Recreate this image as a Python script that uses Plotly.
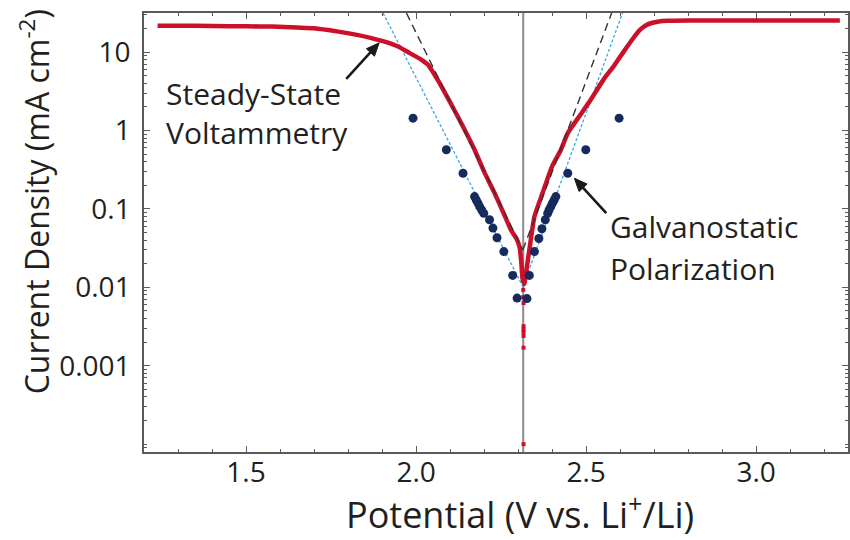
import math
import plotly.graph_objects as go

# ---------------- data ----------------
# Steady-state voltammetry (red curve)
ssv_potential = [1.24, 1.30, 1.40, 1.50, 1.575, 1.65, 1.70, 1.771, 1.83, 1.869, 1.91, 1.947,
                 1.98, 2.016, 2.035, 2.064, 2.10, 2.133, 2.172, 2.20, 2.231, 2.26, 2.279,
                 2.295, 2.304, 2.309, 2.313, 2.318, 2.323, 2.333, 2.348, 2.372, 2.40, 2.426,
                 2.446, 2.48, 2.514, 2.553, 2.582, 2.612, 2.64, 2.655, 2.671, 2.69, 2.71,
                 2.74, 2.80, 2.90, 3.00, 3.10, 3.20, 3.246]
ssv_current = [21.8, 21.8, 21.6, 21.4, 21.2, 20.6, 20.2, 18.3, 16.5, 15.1, 13.5, 11.8,
               9.8, 8.0, 6.9, 4.4, 2.3, 1.24, 0.57, 0.30, 0.159, 0.083, 0.054,
               0.042, 0.033, 0.022, 0.013, 0.011, 0.015, 0.030, 0.080, 0.16, 0.35, 0.57,
               0.93, 1.52, 2.49, 4.6, 6.7, 10.4, 15.4, 18.6, 21.4, 23.4, 24.5,
               25.1, 25.3, 25.3, 25.3, 25.3, 25.3, 25.3]
# scattered low-current voltammetry points near equilibrium
ssv_tail_potential = [2.315, 2.315, 2.316, 2.316, 2.316, 2.316, 2.316, 2.316, 2.316]
ssv_tail_current = [0.0093, 0.0075, 0.0063, 0.0032, 0.0029, 0.0027, 0.0024, 0.0017, 0.0001]

# Galvanostatic polarization (navy dots)
gp_potential = [1.991, 2.089, 2.138, 2.172, 2.177, 2.182, 2.187, 2.193, 2.199, 2.216, 2.226,
                2.238, 2.258, 2.284, 2.297, 2.326, 2.333, 2.348, 2.361, 2.370, 2.380,
                2.387, 2.391, 2.396, 2.401, 2.406, 2.411, 2.446, 2.499, 2.597]
gp_current = [1.44, 0.57, 0.286, 0.144, 0.13, 0.119, 0.107, 0.097, 0.088, 0.073, 0.057,
              0.043, 0.0286, 0.0142, 0.0073, 0.0072, 0.0142, 0.0286, 0.042, 0.056, 0.073,
              0.088, 0.097, 0.107, 0.119, 0.13, 0.144, 0.286, 0.57, 1.44]

# Tafel fits
gp_fit_left_potential = [1.903, 2.314]
gp_fit_left_current = [31.6, 0.0102]
gp_fit_right_potential = [2.314, 2.607]
gp_fit_right_current = [0.0102, 31.6]
ssv_fit_left_potential = [1.9716, 2.314]
ssv_fit_left_current = [31.6, 0.030]
ssv_fit_right_potential = [2.314, 2.575]
ssv_fit_right_current = [0.030, 31.6]

equilibrium_potential = 2.315

# arrow targets (data coordinates) for the two labels
ssv_arrow_target = (1.8915, 13.15)
gp_arrow_target = (2.4654, 0.247)

x_tickvals = [1.5, 2.0, 2.5, 3.0]
y_tickvals = [1e-3, 1e-2, 1e-1, 1, 10]
y_ticktext = ["0.001", "0.01", "0.1", "1", "10"]

# ---------------- layout constants ----------------
FONT = "Open Sans"
TXT = "#231f20"
AX = "#5a5a5a"
RED = "#cc1029"
NAVY = "#172a5c"
LBLUE = "#36a9de"

W, H = 850, 540
ML, MR, MT, MB = 144, 0, 13, 88
XR = [1.2, 3.27]
YR = [-4.1, 1.5]
PW, PH = W - ML - MR, H - MT - MB

fig = go.Figure()

fig.add_shape(type="line", xref="x", yref="paper", x0=equilibrium_potential,
              x1=equilibrium_potential, y0=0, y1=1, line=dict(color="#8a8a8a", width=2),
              layer="below")

fig.add_trace(go.Scatter(x=gp_fit_left_potential, y=gp_fit_left_current, mode="lines",
                         line=dict(color=LBLUE, width=1.3, dash="3px,2px"), showlegend=False))
fig.add_trace(go.Scatter(x=gp_fit_right_potential, y=gp_fit_right_current, mode="lines",
                         line=dict(color=LBLUE, width=1.3, dash="3px,2px"), showlegend=False))

fig.add_trace(go.Scatter(x=ssv_potential, y=ssv_current, mode="lines",
                         line=dict(color=RED, width=4.5, shape="spline", smoothing=0.5),
                         showlegend=False))
fig.add_trace(go.Scatter(x=ssv_tail_potential, y=ssv_tail_current, mode="markers",
                         marker=dict(color=RED, size=4, symbol="square"), showlegend=False))

fig.add_trace(go.Scatter(x=ssv_fit_left_potential, y=ssv_fit_left_current, mode="lines",
                         line=dict(color="#333333", width=1.4, dash="8px,5px"), showlegend=False))
fig.add_trace(go.Scatter(x=ssv_fit_right_potential, y=ssv_fit_right_current, mode="lines",
                         line=dict(color="#333333", width=1.4, dash="8px,5px"), showlegend=False))

fig.add_trace(go.Scatter(x=gp_potential, y=gp_current, mode="markers",
                         marker=dict(color=NAVY, size=9), showlegend=False))

# minor tick positions for log axis
y_minor = [m * 10.0 ** d for d in range(-5, 2) for m in range(1, 10) if not (m == 1 and d > -4)]

fig.update_xaxes(range=XR, tickmode="array", tickvals=x_tickvals,
                 tickformat=".1f", ticks="inside", ticklen=6, tickwidth=1.3, tickcolor=AX,
                 showline=True, linecolor=AX, linewidth=1.5, mirror="ticks",
                 showgrid=False, zeroline=False,
                 tickfont=dict(family=FONT, size=28, color=TXT), ticklabelstandoff=-5,
                 minor=dict(dtick=0.1, tick0=0, ticks="inside", ticklen=3.5, tickwidth=1.2,
                            tickcolor=AX, showgrid=False))
fig.update_yaxes(type="log", range=YR, tickmode="array", tickvals=y_tickvals,
                 ticktext=y_ticktext, ticks="inside", ticklen=6, tickwidth=1.3, tickcolor=AX,
                 showline=True, linecolor=AX, linewidth=1.5, mirror="ticks",
                 showgrid=False, zeroline=False,
                 tickfont=dict(family=FONT, size=28, color=TXT), ticklabelstandoff=6,
                 minor=dict(tickmode="array", tickvals=y_minor, ticks="inside", ticklen=3,
                            tickwidth=1, tickcolor=AX, showgrid=False))


def px2paper_x(px):
    return (px - ML) / PW


def px2paper_y(py):
    return (H - MB - py) / PH


def data2px(xv, yv):
    px = ML + (xv - XR[0]) / (XR[1] - XR[0]) * PW
    py = MT + (YR[1] - math.log10(yv)) / (YR[1] - YR[0]) * PH
    return px, py


def add_arrow(target, dx, dy):
    hx, hy = data2px(*target)
    tx, ty = hx + dx, hy + dy
    L = math.hypot(dx, dy)
    ux, uy = -dx / L, -dy / L  # unit vector tail -> head
    head_len, head_w = 13, 5.5
    bx, by = hx - ux * head_len, hy - uy * head_len
    nx, ny = -uy, ux
    fig.add_shape(type="line", xref="paper", yref="paper",
                  x0=px2paper_x(tx), y0=px2paper_y(ty),
                  x1=px2paper_x(bx + ux * 2), y1=px2paper_y(by + uy * 2),
                  line=dict(color="#1a1a1a", width=2.6))
    pts = [(hx, hy), (bx + nx * head_w, by + ny * head_w), (bx - nx * head_w, by - ny * head_w)]
    path = "M " + " L ".join(f"{px2paper_x(p[0]):.5f},{px2paper_y(p[1]):.5f}" for p in pts) + " Z"
    fig.add_shape(type="path", xref="paper", yref="paper", path=path,
                  fillcolor="#1a1a1a", line=dict(color="#1a1a1a", width=1))


add_arrow(ssv_arrow_target, -33, 36)
add_arrow(gp_arrow_target, 32, 35)

annotations = [
    dict(text="Current Density (mA cm<sup>-2</sup>)", xref="paper", yref="paper",
         x=px2paper_x(34), y=px2paper_y(202), textangle=-90, showarrow=False,
         xanchor="center", yanchor="middle", font=dict(family=FONT, size=32, color=TXT)),
    dict(text="Potential (V vs. Li<sup>+</sup>/Li)", xref="paper", yref="paper",
         x=px2paper_x(521), y=px2paper_y(512), showarrow=False,
         xanchor="center", yanchor="middle", font=dict(family=FONT, size=36, color=TXT)),
    dict(text="Steady-State", xref="paper", yref="paper", x=px2paper_x(164),
         y=px2paper_y(93), showarrow=False, xanchor="left", yanchor="middle",
         font=dict(family=FONT, size=30, color=TXT)),
    dict(text="Voltammetry", xref="paper", yref="paper", x=px2paper_x(164),
         y=px2paper_y(133), showarrow=False, xanchor="left", yanchor="middle",
         font=dict(family=FONT, size=30, color=TXT)),
    dict(text="Galvanostatic", xref="paper", yref="paper", x=px2paper_x(609),
         y=px2paper_y(227), showarrow=False, xanchor="left", yanchor="middle",
         font=dict(family=FONT, size=30, color=TXT)),
    dict(text="Polarization", xref="paper", yref="paper", x=px2paper_x(609),
         y=px2paper_y(268), showarrow=False, xanchor="left", yanchor="middle",
         font=dict(family=FONT, size=30, color=TXT)),
]

fig.update_layout(width=W, height=H, margin=dict(l=ML, r=MR, t=MT, b=MB),
                  paper_bgcolor="white", plot_bgcolor="white",
                  annotations=annotations, showlegend=False)

fig.write_html("out.html")
